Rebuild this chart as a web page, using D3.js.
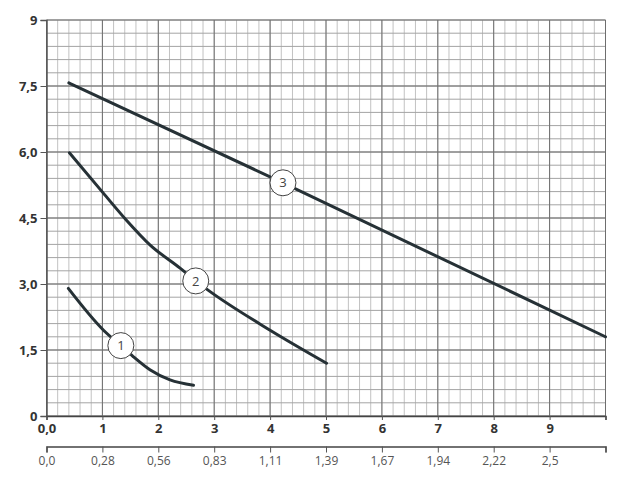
<!DOCTYPE html>
<html>
<head>
<meta charset="utf-8">
<script src="https://cdn.jsdelivr.net/npm/d3@7"></script>
<style>
  body { margin: 0; background: #fff; }
  svg text { font-family: "Open Sans", "DejaVu Sans", sans-serif; }
</style>
</head>
<body>
<div id="chart"></div>
<script>
// values
var curve1 = [[0.39, 2.9], [1.02, 1.95], [1.33, 1.6], [1.55, 1.35], [1.85, 1.05], [2.21, 0.82], [2.63, 0.7]];
var curve2 = [[0.41, 5.98], [1.02, 5.06], [1.43, 4.45], [1.85, 3.89], [2.39, 3.36], [2.67, 3.07], [2.89, 2.86], [4.0, 1.95], [5.01, 1.2]];
var curve3 = [[0.4, 7.57], [4.23, 5.3], [10, 1.8]];
var curves = [curve1, curve2, curve3];
var curveLabels = ["1", "2", "3"];
var labelPoints = [[1.33, 1.6], [2.67, 3.07], [4.23, 5.3]];

var yTicks = [0, 1.5, 3, 4.5, 6, 7.5, 9];
var yTickLabels = ["0", "1,5", "3,0", "4,5", "6,0", "7,5", "9"];
var xTicks = [0, 1, 2, 3, 4, 5, 6, 7, 8, 9, 10];
var xTickLabels = ["0,0", "1", "2", "3", "4", "5", "6", "7", "8", "9", ""];
var x2TickLabels = ["0,0", "0,28", "0,56", "0,83", "1,11", "1,39", "1,67", "1,94", "2,22", "2,5", ""];

var width = 640, height = 500;
var plotLeft = 46.5, plotRight = 605.5, plotTop = 20, plotBottom = 416;

var svg = d3.select('#chart').append('svg')
  .attr('width', width)
  .attr('height', height);

var x = d3.scaleLinear().domain([0, 10]).range([plotLeft, plotRight]);
var y = d3.scaleLinear().domain([0, 9]).range([plotBottom, plotTop]);

var grid = svg.append('g');

// minor grid: 0.2 in x, 0.3 in y
d3.range(0, 10.001, 0.2).forEach(function (v) {
  grid.append('line')
    .attr('x1', x(v)).attr('x2', x(v))
    .attr('y1', plotTop).attr('y2', plotBottom)
    .attr('stroke', '#c2c2c2').attr('stroke-width', 1);
});
d3.range(0, 9.001, 0.3).forEach(function (v) {
  grid.append('line')
    .attr('x1', plotLeft).attr('x2', plotRight)
    .attr('y1', y(v)).attr('y2', y(v))
    .attr('stroke', '#a4a4a4').attr('stroke-width', 1);
});
// major grid
xTicks.forEach(function (v) {
  grid.append('line')
    .attr('x1', x(v)).attr('x2', x(v))
    .attr('y1', plotTop).attr('y2', plotBottom)
    .attr('stroke', '#6e6e6e').attr('stroke-width', 1);
});
yTicks.forEach(function (v) {
  grid.append('line')
    .attr('x1', plotLeft).attr('x2', plotRight)
    .attr('y1', y(v)).attr('y2', y(v))
    .attr('stroke', '#6e6e6e').attr('stroke-width', 1);
});

// axes
var yAxis = d3.axisLeft(y).tickValues(yTicks)
  .tickFormat(function (d, i) { return yTickLabels[i]; })
  .tickSize(6).tickPadding(3);
var gy = svg.append('g').attr('transform', 'translate(' + plotLeft + ',0)').call(yAxis);
gy.select('.domain').attr('stroke', '#555').attr('stroke-width', 1.5);

var xAxis = d3.axisBottom(x).tickValues(xTicks)
  .tickFormat(function (d, i) { return xTickLabels[i]; })
  .tickSize(4).tickPadding(4);
var gx = svg.append('g').attr('transform', 'translate(0,' + plotBottom + ')').call(xAxis);
gx.select('.domain').attr('stroke', '#444').attr('stroke-width', 1.5);

var x2Axis = d3.axisBottom(x).tickValues(xTicks)
  .tickFormat(function (d, i) { return x2TickLabels[i]; })
  .tickSize(6).tickPadding(4);
var gx2 = svg.append('g').attr('transform', 'translate(0,446.5)').call(x2Axis);
gx2.select('.domain').attr('stroke', '#444').attr('stroke-width', 1.5);

[gy, gx].forEach(function (g) {
  g.selectAll('.tick line').attr('stroke', '#555');
  g.selectAll('.tick text').attr('fill', '#333')
    .attr('font-size', 13).attr('font-weight', 'bold');
});
gx2.selectAll('.tick line').attr('stroke', '#555');
gx2.selectAll('.tick text').attr('fill', '#555').attr('font-size', 12);

// curves
var line = d3.line()
  .x(function (d) { return x(d[0]); })
  .y(function (d) { return y(d[1]); })
  .curve(d3.curveMonotoneX);

svg.selectAll('path.curve').data(curves)
  .enter().append('path')
  .attr('class', 'curve')
  .attr('d', line)
  .attr('fill', 'none')
  .attr('stroke', '#263136')
  .attr('stroke-width', 3)
  .attr('stroke-linecap', 'round');

// numbered markers
var marks = svg.selectAll('g.mark').data(labelPoints)
  .enter().append('g')
  .attr('class', 'mark')
  .attr('transform', function (d) { return 'translate(' + x(d[0]) + ',' + y(d[1]) + ')'; });
marks.append('circle')
  .attr('r', 13)
  .attr('fill', '#fff')
  .attr('stroke', '#444')
  .attr('stroke-width', 1);
marks.append('text')
  .attr('text-anchor', 'middle')
  .attr('dy', '0.36em')
  .attr('font-size', 13)
  .attr('fill', '#444')
  .text(function (d, i) { return curveLabels[i]; });
</script>
</body>
</html>
